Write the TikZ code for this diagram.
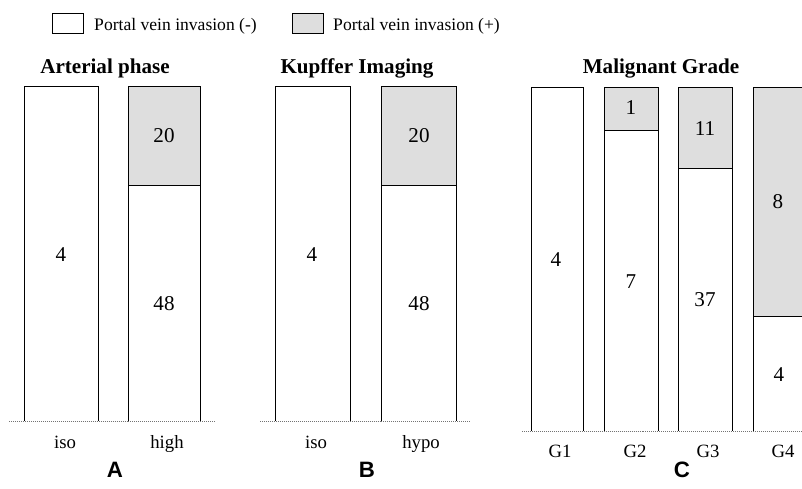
\documentclass[tikz,border=0pt]{standalone}
\usepackage{fontspec}
\setmainfont{Liberation Serif}
\newfontfamily\panelfont{Liberation Sans}
\usetikzlibrary{positioning}

\begin{document}
\begin{tikzpicture}[x=0.3mm, y=-0.3mm,
    pvineg/.style={draw, line width=0.6pt, fill=white},
    pvipos/.style={draw, line width=0.6pt, fill=black!13},
    baseline dots/.style={draw=black!55, densely dotted, line width=0.7pt},
    num/.style={font=\fontsize{18}{18}\selectfont},
    lbl/.style={font=\fontsize{16}{16}\selectfont, anchor=base},
    ttl/.style={font=\fontsize{18}{18}\selectfont\bfseries, anchor=base},
    pnl/.style={font=\fontsize{19}{19}\selectfont\panelfont\bfseries}]
        \clip (0,0) rectangle (802,488);

        % legend
        \node[pvineg, minimum width=9.3mm, minimum height=6mm, inner sep=0pt] (keyneg) at (67.5,23) {};
        \node[font=\fontsize{15}{15}\selectfont, inner sep=0pt, anchor=base west] (txtneg) at (94,30) {Portal vein invasion (-)};
        \node[pvipos, minimum width=9.3mm, minimum height=6mm, inner sep=0pt] (keypos) at (307.5,23) {};
        \node[font=\fontsize{15}{15}\selectfont, inner sep=0pt, anchor=base west] (txtpos) at (333,30) {Portal vein invasion (+)};

        % A: arterial phase
        \node[ttl] (ttla) at (105,73) {Arterial phase};
        \draw[pvineg] (24,421) |- (98,86) -- (98,421);
        \draw[pvineg] (128,421) |- (200,86) -- (200,421);
        \draw[pvipos] (128,86) rectangle (200,185);
        \draw[baseline dots] (9,421) -- (215,421);
        \node[num] (a1) at (61,255) {4};
        \node[num] (a2p) at (164,136) {20};
        \node[num] (a2n) at (164,304) {48};
        \node[lbl] (isoa) at (65,448) {iso};
        \node[lbl] (higha) at (167,448) {high};
        \node[pnl] (pa) at (115,470) {A};

        % B: kupffer imaging
        \node[ttl] (ttlb) at (357,73) {Kupffer Imaging};
        \draw[pvineg] (275,421) |- (350,86) -- (350,421);
        \draw[pvineg] (381,421) |- (456,86) -- (456,421);
        \draw[pvipos] (381,86) rectangle (456,185);
        \draw[baseline dots] (260,421) -- (470,421);
        \node[num] (b1) at (312,255) {4};
        \node[num] (b2p) at (419,136) {20};
        \node[num] (b2n) at (419,304) {48};
        \node[lbl] (isob) at (316,448) {iso};
        \node[lbl] (hypob) at (421,448) {hypo};
        \node[pnl] (pb) at (367,470) {B};

        % C: malignant grade
        \node[ttl] (ttlc) at (661,73) {Malignant Grade};
        \draw[pvineg] (531,431) |- (583,87) -- (583,431);
        \draw[pvineg] (604,431) |- (658,87) -- (658,431);
        \draw[pvipos] (604,87) rectangle (658,130);
        \draw[pvineg] (678,431) |- (732,87) -- (732,431);
        \draw[pvipos] (678,87) rectangle (732,168);
        \draw[pvineg] (753,431) |- (812,87) -- (812,431);
        \draw[pvipos] (753,87) rectangle (812,316);
        \draw[baseline dots] (522,431) -- (802,431);
        \node[num] (g1n) at (556,260) {4};
        \node[num] (g2p) at (631,108) {1};
        \node[num] (g2n) at (631,282) {7};
        \node[num] (g3p) at (705,129) {11};
        \node[num] (g3n) at (705,300) {37};
        \node[num] (g4p) at (778,202) {8};
        \node[num] (g4n) at (779,375) {4};
        \node[lbl] (g1) at (560,457) {G1};
        \node[lbl] (g2) at (635,457) {G2};
        \node[lbl] (g3) at (708,457) {G3};
        \node[lbl] (g4) at (783,457) {G4};
        \node[pnl] (pc) at (682,470) {C};
    \end{tikzpicture}
\end{document}
